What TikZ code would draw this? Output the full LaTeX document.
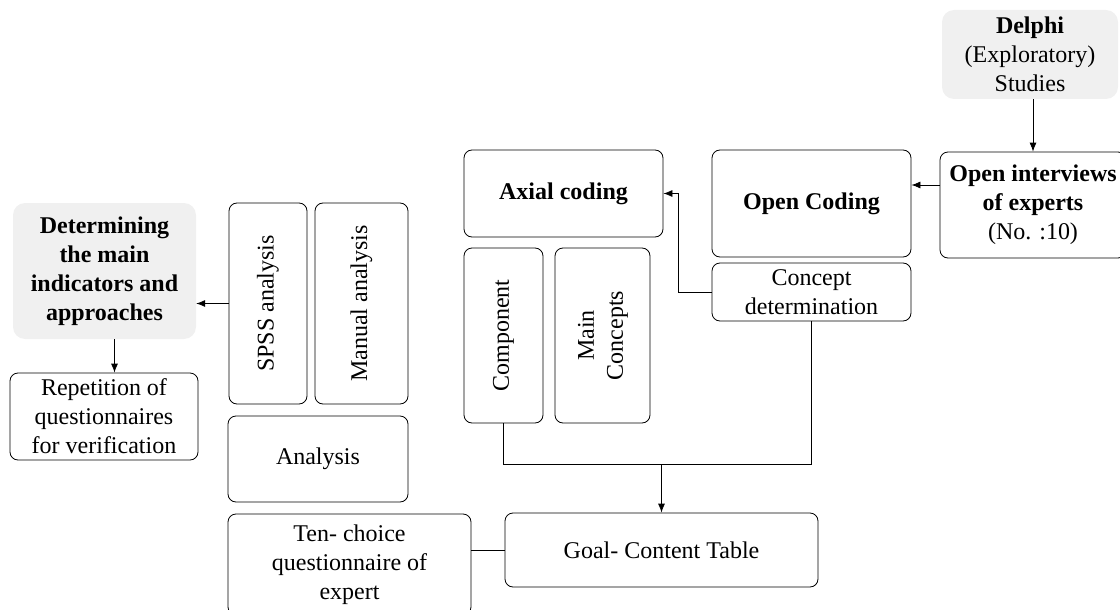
\documentclass[tikz,border=0pt]{standalone}
\usepackage{fontspec}
\setmainfont{Liberation Serif}
\usetikzlibrary{arrows.meta, positioning, calc}

\begin{document}
\begin{tikzpicture}[x=1pt, y=-1pt, >={Latex[length=9pt,width=7pt]},
        font=\fontsize{24}{29}\selectfont,
        box/.style={draw, rounded corners=8pt, align=center, inner sep=0pt, line width=0.8pt},
        greybox/.style={fill=black!6, rounded corners=12pt, align=center, inner sep=0pt},
        link/.style={line width=0.8pt}]
        \useasboundingbox (0,0) rectangle (1120,610);

        \node [greybox, minimum width=176pt, minimum height=89pt] (delphi) at (1030,54.5) {\textbf{Delphi}\\ (Exploratory)\\ Studies};
        \node [box, minimum width=186pt, minimum height=106pt] (interv) at (1033,205) {\textbf{Open interviews}\\ \textbf{of experts}\\ (No. :10)};

        \node [box, minimum width=199pt, minimum height=107pt] (opencod) at (811.5,203.5) {\textbf{Open Coding}};
        \node [box, minimum width=199pt, minimum height=58pt] (concept) at (811.5,292) {Concept\\ determination};

        \node [box, minimum width=199pt, minimum height=87pt] (axial) at (563.5,193.5) {\textbf{Axial coding}};
        \node [box, minimum width=79pt, minimum height=175pt] (comp) at (503.5,335.5) {\rotatebox{90}{Component}};
        \node [box, minimum width=95pt, minimum height=175pt] (mainc) at (602.5,335.5) {\rotatebox{90}{\begin{tabular}{@{}c@{}}Main\\ Concepts\end{tabular}}};

        \node [box, minimum width=313pt, minimum height=74pt] (goal) at (661.5,550) {Goal- Content Table};
        \node [box, minimum width=243pt, minimum height=101pt] (tenq) at (349.5,564.5) {Ten- choice\\ questionnaire of\\ expert};

        \node [box, minimum width=180pt, minimum height=86pt] (analysis) at (318,459) {Analysis};
        \node [box, minimum width=78pt, minimum height=201pt] (spss) at (268,303.5) {\rotatebox{90}{SPSS analysis}};
        \node [box, minimum width=93pt, minimum height=201pt] (manual) at (361.5,303.5) {\rotatebox{90}{Manual analysis}};

        \node [greybox, minimum width=183pt, minimum height=136pt] (determ) at (104.5,271) {\textbf{Determining}\\ \textbf{the main}\\ \textbf{indicators and}\\ \textbf{approaches}};
        \node [box, minimum width=188pt, minimum height=87pt] (repet) at (104,416.5) {Repetition of\\ questionnaires\\ for verification};

        \draw [->, link] (interv.north |- delphi.south) -- (interv.north);
        \draw [->, link] ([yshift=20pt]interv.west) -- ([yshift=20pt]interv.west -| opencod.east);
        \draw [->, link] (concept.west) -- ++(-33,0) |- (axial.east);

        % components and concepts feed the table
        \path (goal.north) ++(0,-48) coordinate (join);
        \draw [link] (comp.south) |- (concept.south |- join) -- (concept.south);
        \draw [->, link] (join) -- (goal.north);
        \draw [link] (goal.west) -- (goal.west -| tenq.east);

        \draw [->, link] (spss.west) -- (spss.west -| determ.east);
        \draw [->, link] ([xshift=10pt]determ.south) -- ([xshift=10pt]determ.south |- repet.north);
    \end{tikzpicture}
\end{document}
